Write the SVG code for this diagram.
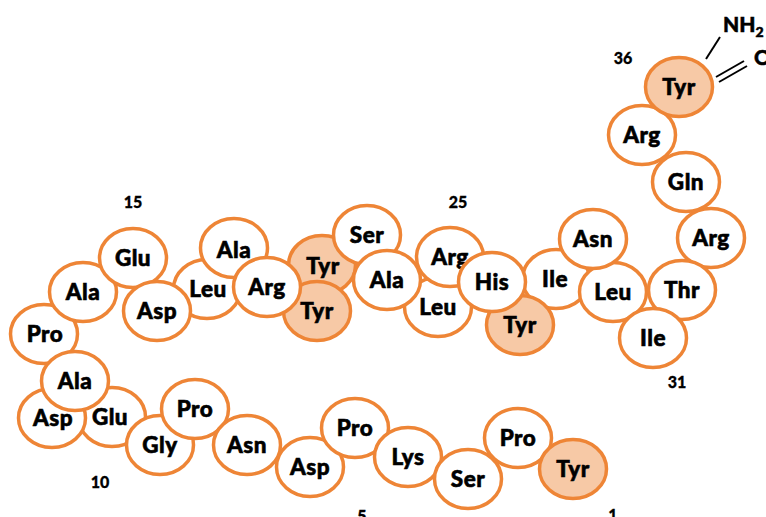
<svg xmlns="http://www.w3.org/2000/svg" width="766" height="517" viewBox="0 0 766 517">
  <style>
    .res ellipse { fill: #ffffff; stroke: #EE8536; stroke-width: 3.5; }
    .res.tyr ellipse { fill: #F7C9A6; }
    .res text { font-family: Lato, "Liberation Sans", sans-serif; font-weight: 900; font-size: 22.5px; fill: #000000; stroke: #000000; stroke-width: 0.6px; text-anchor: middle; letter-spacing: 0.5px; }
    .num { font-family: Lato, "Liberation Sans", sans-serif; font-weight: 900; font-size: 16px; fill: #000000; stroke: #000000; stroke-width: 0.3px; text-anchor: middle; }
    .chem { font-family: Lato, "Liberation Sans", sans-serif; font-weight: 900; font-size: 21px; fill: #000000; stroke: #000000; stroke-width: 0.5px; }
    .bond { stroke: #000000; stroke-width: 2; fill: none; }
  </style>

  <!-- residues, drawn back to front so overlaps stack correctly -->
  <g id="res10" class="res"><ellipse cx="112" cy="417" rx="33.5" ry="29.5"/><text x="110" y="425">Glu</text></g>
  <g id="res9" class="res"><ellipse cx="160" cy="445" rx="33.5" ry="29.5"/><text x="160" y="453">Gly</text></g>
  <g id="res8" class="res"><ellipse cx="195" cy="409" rx="33.5" ry="29.5"/><text x="195" y="417">Pro</text></g>
  <g id="res7" class="res"><ellipse cx="247" cy="445" rx="33.5" ry="29.5"/><text x="247" y="453">Asn</text></g>
  <g id="res6" class="res"><ellipse cx="310" cy="467" rx="33.5" ry="29.5"/><text x="310" y="475">Asp</text></g>
  <g id="res5" class="res"><ellipse cx="355" cy="428" rx="33.5" ry="29.5"/><text x="355" y="436">Pro</text></g>
  <g id="res4" class="res"><ellipse cx="408" cy="457" rx="33.5" ry="29.5"/><text x="408" y="465">Lys</text></g>
  <g id="res3" class="res"><ellipse cx="468" cy="479" rx="33.5" ry="29.5"/><text x="468" y="487">Ser</text></g>
  <g id="res2" class="res"><ellipse cx="518" cy="438" rx="33.5" ry="29.5"/><text x="518" y="446">Pro</text></g>
  <g id="res1" class="res tyr"><ellipse cx="573" cy="469" rx="33.5" ry="29.5"/><text x="573" y="477">Tyr</text></g>
  <g id="res11" class="res"><ellipse cx="52" cy="418" rx="33.5" ry="29.5"/><text x="53" y="426">Asp</text></g>
  <g id="res13" class="res"><ellipse cx="44" cy="334" rx="33.5" ry="29.5"/><text x="45" y="342">Pro</text></g>
  <g id="res12" class="res"><ellipse cx="75" cy="381" rx="33.5" ry="29.5"/><text x="75" y="389">Ala</text></g>
  <g id="res14" class="res"><ellipse cx="83" cy="292" rx="33.5" ry="29.5"/><text x="83" y="300">Ala</text></g>
  <g id="res15" class="res"><ellipse cx="133" cy="258" rx="33.5" ry="29.5"/><text x="133" y="266">Glu</text></g>
  <g id="res17" class="res"><ellipse cx="207" cy="289" rx="33.5" ry="29.5"/><text x="208" y="297">Leu</text></g>
  <g id="res16" class="res"><ellipse cx="157" cy="311" rx="33.5" ry="29.5"/><text x="157" y="319">Asp</text></g>
  <g id="res18" class="res"><ellipse cx="234" cy="248" rx="33.5" ry="29.5"/><text x="234" y="258">Ala</text></g>
  <g id="res20" class="res tyr"><ellipse cx="322" cy="265" rx="33.5" ry="29.5"/><text x="323" y="274">Tyr</text></g>
  <g id="res21" class="res tyr"><ellipse cx="317" cy="311" rx="33.5" ry="29.5"/><text x="317" y="319">Tyr</text></g>
  <g id="res19" class="res"><ellipse cx="267" cy="287" rx="33.5" ry="29.5"/><text x="267" y="295">Arg</text></g>
  <g id="res22" class="res"><ellipse cx="367" cy="235" rx="33.5" ry="29.5"/><text x="367" y="243">Ser</text></g>
  <g id="res24" class="res"><ellipse cx="438" cy="307" rx="33.5" ry="29.5"/><text x="438" y="315">Leu</text></g>
  <g id="res23" class="res"><ellipse cx="387" cy="280" rx="33.5" ry="29.5"/><text x="387" y="288">Ala</text></g>
  <g id="res25" class="res"><ellipse cx="450" cy="257" rx="33.5" ry="29.5"/><text x="450" y="265">Arg</text></g>
  <g id="res28" class="res"><ellipse cx="556" cy="279" rx="33.5" ry="29.5"/><text x="555" y="287">Ile</text></g>
  <g id="res27" class="res tyr"><ellipse cx="520" cy="325" rx="33.5" ry="29.5"/><text x="520" y="333">Tyr</text></g>
  <g id="res30" class="res"><ellipse cx="613" cy="292" rx="33.5" ry="29.5"/><text x="613" y="300">Leu</text></g>
  <g id="res29" class="res"><ellipse cx="593" cy="239" rx="33.5" ry="29.5"/><text x="593" y="247">Asn</text></g>
  <g id="res26" class="res"><ellipse cx="492" cy="282" rx="33.5" ry="29.5"/><text x="492" y="290">His</text></g>
  <g id="res33" class="res"><ellipse cx="711" cy="238" rx="33.5" ry="29.5"/><text x="711" y="246">Arg</text></g>
  <g id="res32" class="res"><ellipse cx="682" cy="290" rx="33.5" ry="29.5"/><text x="682" y="298">Thr</text></g>
  <g id="res31" class="res"><ellipse cx="653" cy="338" rx="33.5" ry="29.5"/><text x="653" y="346">Ile</text></g>
  <g id="res35" class="res"><ellipse cx="642" cy="135" rx="33.5" ry="29.5"/><text x="642" y="143">Arg</text></g>
  <g id="res34" class="res"><ellipse cx="686" cy="182" rx="33.5" ry="29.5"/><text x="686" y="190">Gln</text></g>
  <g id="res36" class="res tyr"><ellipse cx="679" cy="87" rx="33.5" ry="29.5"/><text x="679" y="95">Tyr</text></g>

  <!-- C-terminal amide bonds -->
  <g id="bonds">
    <line class="bond" x1="706" y1="59" x2="720" y2="37"/>
    <line class="bond" x1="716" y1="77" x2="744" y2="61"/>
    <line class="bond" x1="719" y1="82" x2="747" y2="66"/>
  </g>
  <g id="amide">
    <text class="chem" x="723" y="32">NH<tspan font-size="14" dy="5">2</tspan></text>
    <text class="chem" x="754" y="65">O</text>
  </g>

  <!-- position numbers -->
  <g id="numbers">
    <text class="num" x="623" y="64">36</text>
    <text class="num" x="133" y="208">15</text>
    <text class="num" x="458" y="208">25</text>
    <text class="num" x="677" y="388">31</text>
    <text class="num" x="100" y="488">10</text>
    <text class="num" x="362" y="522">5</text>
    <text class="num" x="613" y="521">1</text>
  </g>
</svg>
